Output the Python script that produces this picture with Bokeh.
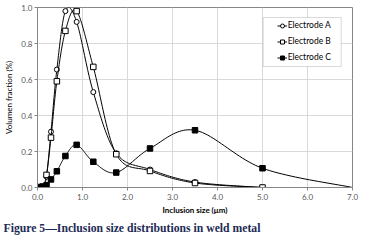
import numpy as np
from bokeh.plotting import figure
from bokeh.models import (Range1d, FixedTicker, PrintfTickFormatter, Legend, LegendItem,
                          BoxAnnotation, Title)
from bokeh.embed import file_html
from bokeh.resources import INLINE

# ---- data ----
sizes = [0.05, 0.12, 0.20, 0.30, 0.43, 0.62, 0.87, 1.24, 1.75, 2.50, 3.50, 5.00, 7.00]
electrode_a = [0.0, 0.003, 0.06, 0.31, 0.655, 0.98, 0.92, 0.53, 0.19, 0.10, 0.03, 0.0]
electrode_b = [0.0, 0.003, 0.07, 0.277, 0.59, 0.87, 0.98, 0.67, 0.185, 0.092, 0.025, 0.0]
electrode_c = [0.003, 0.005, 0.012, 0.045, 0.09, 0.175, 0.237, 0.143, 0.083, 0.217, 0.318, 0.107, 0.0]
c_marker_count = 12
x_ticks = [0, 1, 2, 3, 4, 5, 6, 7]
y_ticks = [0.0, 0.2, 0.4, 0.6, 0.8, 1.0]
series_names = ["Electrode A", "Electrode B", "Electrode C"]
caption = "Figure 5\u2014Inclusion size distributions in weld metal"


def smooth(xs, ys, n=24):
    xs = np.asarray(xs, float)
    ys = np.asarray(ys, float)
    px = np.concatenate([[xs[0]], xs, [xs[-1]]])
    py = np.concatenate([[ys[0]], ys, [ys[-1]]])
    t = np.linspace(0, 1, n)[:, None]
    outx, outy = [], []
    for i in range(1, len(px) - 2):
        p0 = np.array([px[i], py[i]])
        p3 = np.array([px[i + 1], py[i + 1]])
        c1 = p0 + (np.array([px[i + 1], py[i + 1]]) - np.array([px[i - 1], py[i - 1]])) / 6.0
        c2 = p3 - (np.array([px[i + 2], py[i + 2]]) - np.array([px[i], py[i]])) / 6.0
        pts = ((1 - t) ** 3) * p0 + 3 * ((1 - t) ** 2) * t * c1 + 3 * (1 - t) * t ** 2 * c2 + t ** 3 * p3
        outx.extend(pts[:, 0])
        outy.extend(pts[:, 1])
    return outx, outy


p = figure(width=377, height=241, output_backend="svg", toolbar_location=None,
           x_range=Range1d(0, 7), y_range=Range1d(0, 1.0),
           min_border_left=37, min_border_right=25, min_border_top=7, min_border_bottom=54)
p.background_fill_color = "white"
p.border_fill_color = "white"
p.outline_line_color = "#868686"
p.outline_line_width = 1

for ax in (p.xaxis[0], p.yaxis[0]):
    ax.axis_line_color = "#868686"
    ax.major_tick_line_color = "#868686"
    ax.major_tick_out = 3
    ax.major_tick_in = 0
    ax.minor_tick_line_color = None
    ax.major_label_text_font = "Lato"
    ax.major_label_text_font_size = "8px"
    ax.major_label_text_color = "#595959"
    ax.axis_label_text_font = "Lato"
    ax.axis_label_text_font_size = "8px"
    ax.axis_label_text_color = "#000000"

p.xaxis.ticker = FixedTicker(ticks=x_ticks)
p.yaxis.ticker = FixedTicker(ticks=y_ticks)
p.xaxis.formatter = PrintfTickFormatter(format="%.1f")
p.yaxis.formatter = PrintfTickFormatter(format="%.1f")
p.xaxis.axis_label = "Inclusion size (\u03bcm)"
p.xaxis.axis_label_text_font_style = "bold"
p.yaxis.axis_label = "Volumen fraction (%)"
p.yaxis.axis_label_text_font_style = "normal"
p.xaxis.major_label_standoff = 3
p.xaxis.axis_label_standoff = 2
p.yaxis.major_label_standoff = 2
p.yaxis.axis_label_standoff = 4

p.xgrid.ticker = FixedTicker(ticks=x_ticks)
p.ygrid.ticker = FixedTicker(ticks=y_ticks)
p.grid.grid_line_color = "#d9d9d9"
p.grid.grid_line_width = 1

# Electrode A
ax_, ay_ = smooth(sizes[:len(electrode_a)], electrode_a)
la = p.line(ax_, ay_, line_color="black", line_width=1)
sa = p.scatter(sizes[:len(electrode_a)], electrode_a, marker="circle", size=5,
               fill_color="white", line_color="black", line_width=1)
# Electrode B
bx_, by_ = smooth(sizes[:len(electrode_b)], electrode_b)
lb = p.line(bx_, by_, line_color="black", line_width=1)
sb = p.scatter(sizes[:len(electrode_b)], electrode_b, marker="square", size=5.5,
               fill_color="white", line_color="black", line_width=1)
# Electrode C
cx_, cy_ = smooth(sizes, electrode_c)
lc = p.line(cx_, cy_, line_color="black", line_width=1)
sc = p.scatter(sizes[:c_marker_count], electrode_c[:c_marker_count], marker="square", size=5.5,
               fill_color="black", line_color="black", line_width=1)

box = BoxAnnotation(left=225.7, right=303.7, bottom=121, top=170,
                    left_units="screen", right_units="screen",
                    bottom_units="screen", top_units="screen",
                    fill_color="white", fill_alpha=1.0,
                    line_color="#868686", line_width=1)
p.add_layout(box)

legend = Legend(items=[LegendItem(label=series_names[0], renderers=[la, sa]),
                       LegendItem(label=series_names[1], renderers=[lb, sb]),
                       LegendItem(label=series_names[2], renderers=[lc, sc])],
                location=(239.7, 123.5), margin=0, padding=0, spacing=3,
                glyph_width=10, glyph_height=13, label_height=13, label_standoff=1,
                label_text_font="Lato", label_text_font_size="8.5px",
                label_text_color="#000000",
                border_line_alpha=0, background_fill_alpha=0)
p.add_layout(legend)

t = Title(text=caption, align="left", text_font="Liberation Serif",
          text_font_size="11.7px", text_font_style="bold", text_color="#1c2a55",
          offset=-34, standoff=4)
p.add_layout(t, "below")

open("out.html", "w").write(file_html(p, INLINE))
